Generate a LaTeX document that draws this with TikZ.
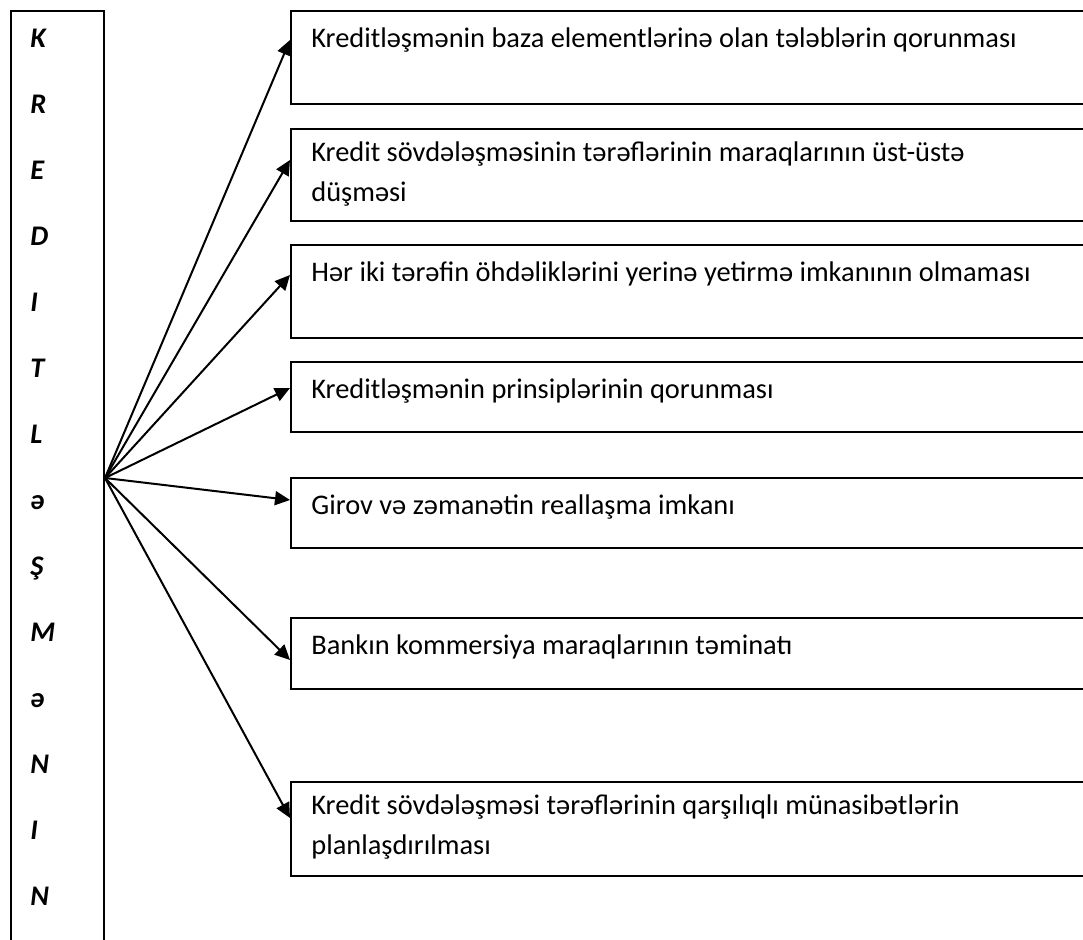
\documentclass[tikz,border=0pt]{standalone}
\usepackage{fontspec}
\setmainfont{Carlito}
\usetikzlibrary{arrows.meta}
\tikzset{
  box/.style={draw, line width=1pt, anchor=north west, minimum width=400pt, inner sep=0pt},
  item/.style={anchor=north west, align=left, inner sep=0pt, font=\fontsize{14.2pt}{20pt}\selectfont,
    execute at begin node=\rule{0pt}{12pt}},
  letter/.style={anchor=base west, inner sep=0pt, font=\fontsize{14.2pt}{20pt}\selectfont\bfseries\itshape},
  pil/.style={line width=1pt, -{Triangle[length=7.5pt,width=7pt]}}
}
\begin{document}
\begin{tikzpicture}[x=0.5pt, y=-0.5pt]
  \useasboundingbox (0,0) rectangle (1083,940);
  % left column
  \node[draw, line width=1pt, anchor=north west, minimum width=46.5pt, minimum height=467pt, inner sep=0pt] (kred) at (10,10) {};
  \foreach \l [count=\i from 0] in {K,R,E,D,I,T,L,ə,Ş,M,ə,N,I,N}
    \node[letter] (l\i) at (30,47.5+66*\i) {\l};
  % boxes on the right
  \foreach \n/\tp/\hh/\ay/\txt in {
      1/10/93/40/{Kreditləşmənin baza elementlərinə olan tələblərin qorunması},
      2/128/92/160/{Kredit sövdələşməsinin tərəflərinin maraqlarının üst-üstə\\düşməsi},
      3/244/93/275/{Hər iki tərəfin öhdəliklərini yerinə yetirmə imkanının olmaması},
      4/361/70/388/{Kreditləşmənin prinsiplərinin qorunması},
      5/477/70/500/{Girov və zəmanətin reallaşma imkanı},
      6/617/71/660/{Bankın kommersiya maraqlarının təminatı},
      7/781/94/818/{Kredit sövdələşməsi tərəflərinin qarşılıqlı münasibətlərin\\planlaşdırılması}} {
    \node[box, minimum height=\hh*0.5pt] (b\n) at (290,\tp) {};
    \node[item] (t\n) at ([shift={(21,13.5)}]b\n.north west) {\txt};
    \draw[pil] (kred.east) -- (b\n.west |- 0,\ay);
  }
\end{tikzpicture}
\end{document}
